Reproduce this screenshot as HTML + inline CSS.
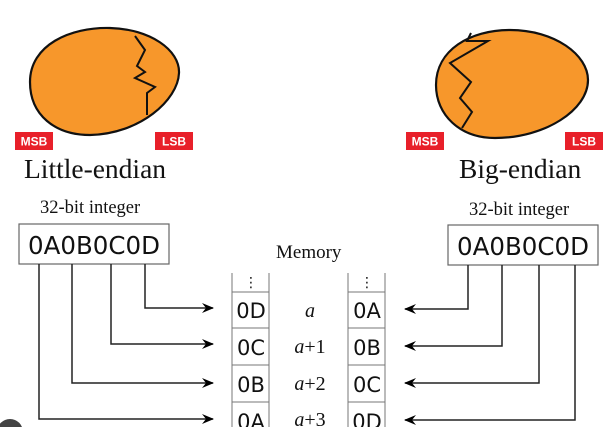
<!DOCTYPE html>
<html><head><style>
body{margin:0;background:#fff;width:606px;height:427px;overflow:hidden}
</style></head><body>
<svg width="606" height="427" viewBox="0 0 606 427" xmlns="http://www.w3.org/2000/svg">
<defs><marker id="ah" markerWidth="12" markerHeight="10" refX="11" refY="5" orient="auto" markerUnits="userSpaceOnUse"><path d="M0,0 L12,5 L0,10 L4,5 Z" fill="#000"/></marker></defs>
<path d="M30,82 C30,45 70,27 110,28 C150,29 180,50 179,73 C178,100 140,134 90,135 C55,135 30,115 30,82 Z" fill="#f7972b" stroke="#111" stroke-width="2.2"/>
<polyline points="135,36 145,50 137,66 145,72 135,78 155,87 147,93 147,115" fill="none" stroke="#111" stroke-width="2"/>
<path d="M436,85 C436,50 470,30 510,30 C555,30 588,55 588,80 C588,110 545,138 495,138 C460,138 436,115 436,85 Z" fill="#f7972b" stroke="#111" stroke-width="2.2"/>
<polyline points="471,33 467,41 488,41 450,63 471,82 460,98 472,112 462,128" fill="none" stroke="#111" stroke-width="2"/>
<g font-family="Liberation Sans, sans-serif" font-weight="bold" font-size="12" fill="#fff">
<rect x="15" y="132" width="38" height="18" fill="#e8202a"/><text x="34" y="145.5" text-anchor="middle">MSB</text>
<rect x="155" y="132" width="38" height="18" fill="#e8202a"/><text x="174" y="145.5" text-anchor="middle">LSB</text>
<rect x="406" y="132" width="38" height="18" fill="#e8202a"/><text x="425" y="145.5" text-anchor="middle">MSB</text>
<rect x="565" y="132" width="38" height="18" fill="#e8202a"/><text x="584" y="145.5" text-anchor="middle">LSB</text>
</g>
<g font-family="Liberation Serif, serif" fill="#111">
<text x="24" y="178" font-size="27.5">Little-endian</text>
<text x="459" y="178" font-size="27.5">Big-endian</text>
<text x="40" y="213" font-size="18.5">32-bit integer</text>
<text x="469" y="215" font-size="18.5">32-bit integer</text>
<text x="276" y="258" font-size="19">Memory</text>
<g font-style="italic" font-size="20" text-anchor="middle">
<text x="310" y="317">a</text><text x="310" y="353">a<tspan font-style="normal">+1</tspan></text>
<text x="310" y="390">a<tspan font-style="normal">+2</tspan></text><text x="310" y="426">a<tspan font-style="normal">+3</tspan></text>
</g></g>
<g font-family="DejaVu Sans, sans-serif" fill="#111">
<rect x="19" y="224" width="150" height="40" fill="#fff" stroke="#666" stroke-width="1.2"/>
<text x="94" y="254" font-size="24.5" text-anchor="middle">0A0B0C0D</text>
<rect x="448" y="225" width="150" height="40" fill="#fff" stroke="#666" stroke-width="1.2"/>
<text x="523" y="255" font-size="24.5" text-anchor="middle">0A0B0C0D</text>
<g stroke="#777" stroke-width="1" fill="none">
<path d="M232,273 V427 M269,273 V427 M232,292 H269 M232,328 H269 M232,365 H269 M232,402 H269"/>
<path d="M348,273 V427 M385,273 V427 M348,292 H385 M348,328 H385 M348,365 H385 M348,402 H385"/>
</g>
<g font-size="21" text-anchor="middle">
<text x="251" y="318">0D</text><text x="251" y="355">0C</text><text x="251" y="392">0B</text><text x="251" y="429">0A</text>
<text x="367" y="318">0A</text><text x="367" y="355">0B</text><text x="367" y="392">0C</text><text x="367" y="429">0D</text>
</g>
<g font-size="14" text-anchor="middle"><text x="251" y="287">⋮</text><text x="367" y="287">⋮</text></g>
</g>
<g stroke="#222" stroke-width="1.5" fill="none" marker-end="url(#ah)">
<polyline points="145,264 145,308 213,308"/>
<polyline points="111,264 111,344 213,344"/>
<polyline points="72,264 72,383 213,383"/>
<polyline points="39,264 39,419 213,419"/>
<polyline points="468,265 468,309 405,309"/>
<polyline points="502,265 502,346 405,346"/>
<polyline points="539,265 539,383 405,383"/>
<polyline points="575,265 575,420 405,420"/>
</g>
<circle cx="10" cy="432" r="13" fill="#444"/>
</svg>
</body></html>
